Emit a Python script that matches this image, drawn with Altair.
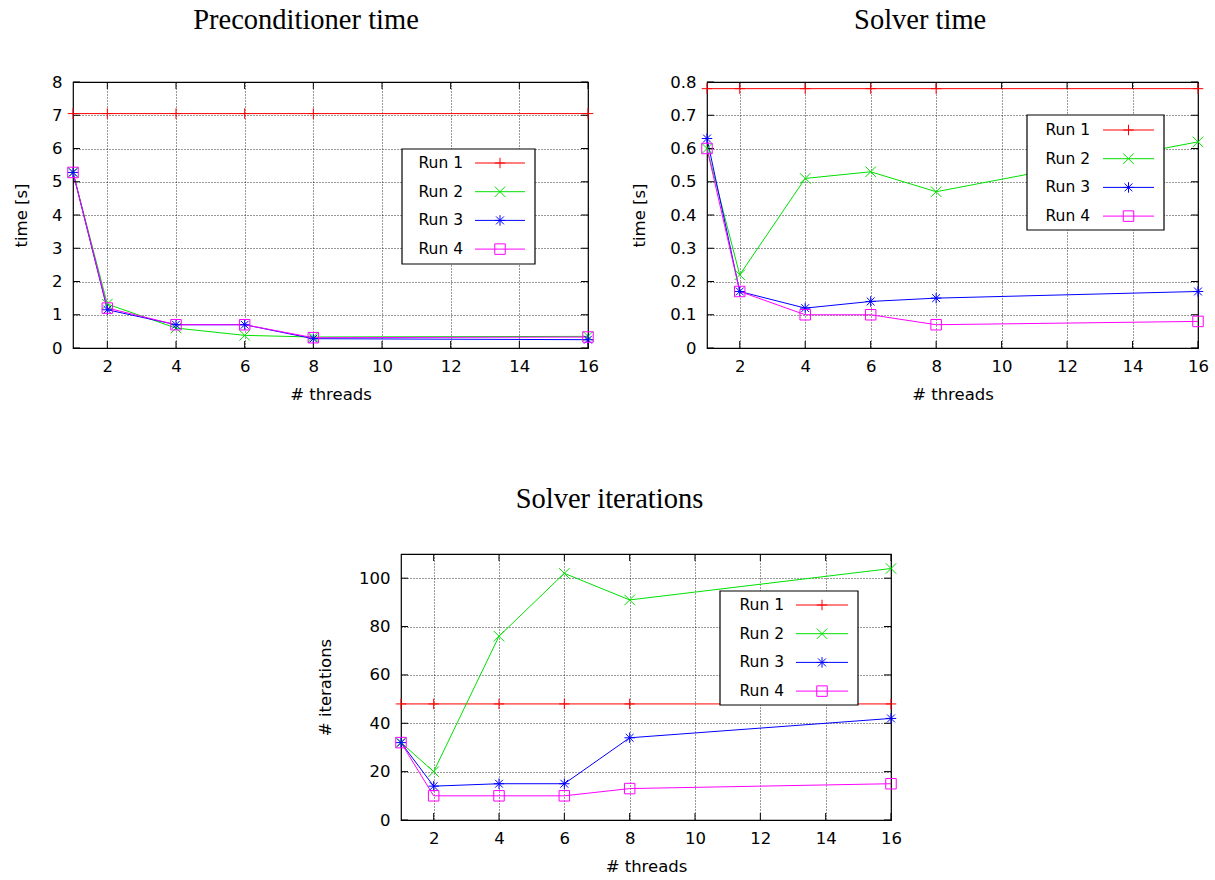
import altair as alt
import pandas as pd

threads = [1, 2, 4, 6, 8, 16]
runs = ["Run 1", "Run 2", "Run 3", "Run 4"]
colors = ["#ff0000", "#00e000", "#0000ff", "#ff00ff"]
x_ticks = [2, 4, 6, 8, 10, 12, 14, 16]

precond_time = {
    "Run 1": [7.05, 7.05, 7.05, 7.05, 7.05, 7.05],
    "Run 2": [5.28, 1.32, 0.60, 0.38, 0.33, 0.35],
    "Run 3": [5.28, 1.15, 0.70, 0.70, 0.28, 0.25],
    "Run 4": [5.28, 1.20, 0.70, 0.70, 0.31, 0.33],
}
solver_time = {
    "Run 1": [0.78, 0.78, 0.78, 0.78, 0.78, 0.78],
    "Run 2": [0.60, 0.22, 0.51, 0.53, 0.47, 0.62],
    "Run 3": [0.63, 0.17, 0.12, 0.14, 0.15, 0.17],
    "Run 4": [0.60, 0.17, 0.10, 0.10, 0.07, 0.08],
}
solver_iters = {
    "Run 1": [48, 48, 48, 48, 48, 48],
    "Run 2": [32, 20, 76, 102, 91, 104],
    "Run 3": [32, 14, 15, 15, 34, 42],
    "Run 4": [32, 10, 10, 10, 13, 15],
}

# gnuplot-like marker shapes: plus, cross, asterisk, open square
shapes = [
    "M-1,0H1M0,-1V1",
    "M-1,-1L1,1M-1,1L1,-1",
    "M-1,0H1M0,-1V1M-0.75,-0.75L0.75,0.75M-0.75,0.75L0.75,-0.75",
    "M-1,-1H1V1H-1Z",
]

FONT = "DejaVu Sans"
H = 266
TICK = 7


def panel(title, data, ytitle, ydomain, yticks, width, leg, ytitle_pad=22):
    rows = []
    for r in runs:
        for t, v in zip(threads, data[r]):
            rows.append({"threads": t, "value": v, "run": r})
    df = pd.DataFrame(rows)

    color = alt.Color("run:N", scale=alt.Scale(domain=runs, range=colors), legend=None)
    shape = alt.Shape("run:N", scale=alt.Scale(domain=runs, range=shapes), legend=None)
    xscale = alt.Scale(domain=[1, 16], nice=False, zero=False)
    x = alt.X("threads:Q", scale=xscale,
              axis=alt.Axis(values=x_ticks, title="# threads", labelFlush=False))
    yscale = alt.Scale(domain=ydomain, nice=False, zero=False)
    y_ax = alt.Y("value:Q", scale=yscale,
                 axis=alt.Axis(values=yticks, title=ytitle, format="~r",
                               titlePadding=ytitle_pad))
    y_no = alt.Y("value:Q", scale=yscale, axis=None)

    lines = alt.Chart(df).mark_line(strokeWidth=1).encode(
        x=x, y=y_ax, color=color, detail="run:N")
    pts = alt.Chart(df).mark_point(filled=False, size=110, strokeWidth=1, opacity=1).encode(
        x=x, y=y_no, color=color, shape=shape)

    # inward tick marks on all four sides (gnuplot style)
    xt_df = pd.DataFrame({"threads": x_ticks})
    yt_df = pd.DataFrame({"value": yticks})
    tick_style = dict(color="black", strokeWidth=1)
    xt_bot = alt.Chart(xt_df).mark_rule(**tick_style).encode(
        x=x, y=alt.value(H), y2=alt.value(H - TICK))
    xt_top = alt.Chart(xt_df).mark_rule(**tick_style).encode(
        x=x, y=alt.value(0), y2=alt.value(TICK))
    yt_left = alt.Chart(yt_df).mark_rule(**tick_style).encode(
        y=y_no, x=alt.value(0), x2=alt.value(TICK))
    yt_right = alt.Chart(yt_df).mark_rule(**tick_style).encode(
        y=y_no, x=alt.value(width - TICK), x2=alt.value(width))

    leg_df = pd.DataFrame({"run": runs, "k": [0, 1, 2, 3]})
    ly = alt.Y("k:Q", scale=alt.Scale(domain=[0, 3], range=[leg["r0"], leg["r0"] + 3 * leg["dr"]]),
               axis=None)
    box = alt.Chart(pd.DataFrame({"k": [0]})).mark_rect(
        fill="white", stroke="black", strokeWidth=1.2).encode(
        x=alt.value(leg["bx0"]), x2=alt.value(leg["bx1"]),
        y=alt.value(leg["by0"]), y2=alt.value(leg["by1"]))
    ltext = alt.Chart(leg_df).mark_text(
        align="right", baseline="middle", font=FONT, fontSize=15.5, color="black").encode(
        x=alt.value(leg["tx"]), y=ly, text="run:N")
    lline = alt.Chart(leg_df).mark_rule(strokeWidth=1).encode(
        x=alt.value(leg["lx0"]), x2=alt.value(leg["lx1"]), y=ly, color=color)
    lpts = alt.Chart(leg_df).mark_point(filled=False, size=110, strokeWidth=1, opacity=1).encode(
        x=alt.value((leg["lx0"] + leg["lx1"]) / 2), y=ly, color=color, shape=shape)

    return alt.layer(lines, xt_bot, xt_top, yt_left, yt_right, pts,
                     box, ltext, lline, lpts).resolve_scale(
        y="independent").properties(width=width, height=H, title=title)


c1 = panel("Preconditioner time", precond_time, "time [s]", [0, 8],
           [0, 1, 2, 3, 4, 5, 6, 7, 8], 515,
           dict(bx0=329, bx1=462, by0=67, by1=182, tx=390, lx0=402, lx1=452, r0=81, dr=28.7))
c2 = panel("Solver time", solver_time, "time [s]", [0, 0.8],
           [0, 0.1, 0.2, 0.3, 0.4, 0.5, 0.6, 0.7, 0.8], 491,
           dict(bx0=320, bx1=457, by0=33, by1=148, tx=383, lx0=396, lx1=447, r0=48, dr=28.7))
c3 = panel("Solver iterations", solver_iters, "# iterations", [0, 110],
           [0, 20, 40, 60, 80, 100], 490,
           dict(bx0=319, bx1=457, by0=37, by1=151, tx=383, lx0=395, lx1=447, r0=51, dr=28.7),
           ytitle_pad=25)

# invisible spacer that shifts the bottom panel to its centred position
spacer = alt.Chart(pd.DataFrame({"k": [0]})).mark_point(opacity=0).encode(
    x=alt.value(0), y=alt.value(0)
).properties(width=233, height=10, view=alt.ViewBackground(strokeOpacity=0))

top = alt.hconcat(c1, c2, spacing=31)
bottom = alt.hconcat(spacer, c3, spacing=10)
chart = alt.vconcat(top, bottom, spacing=80).properties(
    padding={"left": 12, "top": 4, "right": 5, "bottom": 5},
    background="white",
).configure_view(
    stroke="black", strokeWidth=1.2
).configure_axis(
    labelFont=FONT, labelFontSize=16.5, labelColor="black",
    titleFont=FONT, titleFontSize=16.5, titleFontWeight="normal", titleColor="black",
    domain=False, ticks=False,
    grid=True, gridColor="black", gridDash=[1, 2], gridWidth=1, gridOpacity=0.8,
).configure_axisX(
    labelPadding=10, titlePadding=12,
).configure_axisY(
    labelPadding=11,
).configure_title(
    font="Liberation Serif", fontSize=28.5, fontWeight="normal", color="black",
    anchor="middle", frame="bounds", offset=40,
)

chart.save("out.html", embed_options={"renderer": "svg", "actions": False})
